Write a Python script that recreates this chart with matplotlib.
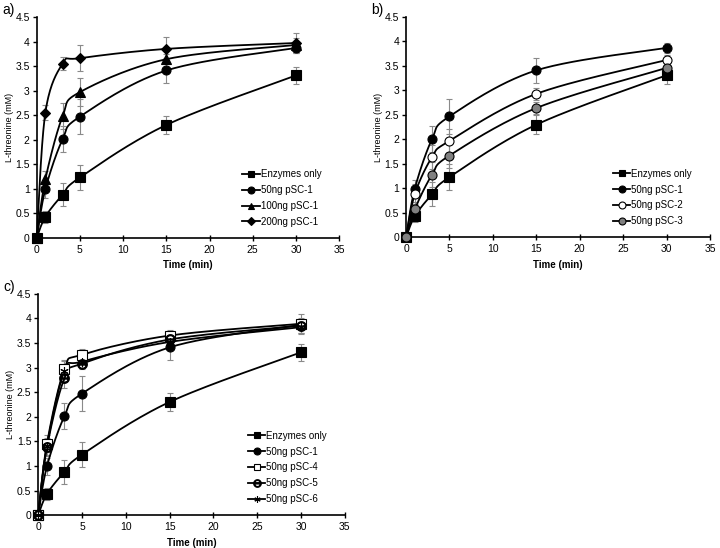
import numpy as np
import matplotlib
matplotlib.use('Agg')
import matplotlib.pyplot as plt

plt.rcParams['font.family'] = ['Liberation Sans', 'DejaVu Sans']
plt.rcParams['font.size'] = 7

######################################################
# DATA

time_min = [0, 1, 3, 5, 15, 30]

enz_only = [0, 0.43, 0.88, 1.23, 2.30, 3.31]
enz_only_err = [0, 0.12, 0.24, 0.26, 0.19, 0.17]

psc1_50 = [0, 0.99, 2.01, 2.47, 3.41, 3.87]
psc1_50_err = [0, 0.18, 0.26, 0.35, 0.26, 0.10]

psc1_100 = [0, 1.19, 2.48, 2.97, 3.64, 3.93]
psc1_100_err = [0, 0.18, 0.27, 0.29, 0.10, 0.15]

psc1_200 = [0, 2.55, 3.55, 3.66, 3.85, 3.97]
psc1_200_err = [0, 0.15, 0.14, 0.27, 0.25, 0.20]

psc2_50 = [0, 0.88, 1.64, 1.97, 2.93, 3.62]
psc2_50_err = [0, 0.20, 0.25, 0.25, 0.12, 0.10]

psc3_50 = [0, 0.57, 1.28, 1.67, 2.64, 3.46]
psc3_50_err = [0, 0.15, 0.25, 0.25, 0.12, 0.10]

psc4_50 = [0, 1.45, 2.97, 3.26, 3.65, 3.89]
psc4_50_err = [0, 0.17, 0.18, 0.12, 0.12, 0.20]

psc5_50 = [0, 1.38, 2.78, 3.08, 3.57, 3.85]
psc5_50_err = [0, 0.17, 0.20, 0.12, 0.12, 0.15]

psc6_50 = [0, 1.40, 2.93, 3.12, 3.52, 3.82]
psc6_50_err = [0, 0.17, 0.20, 0.12, 0.12, 0.12]

######################################################
# STILI

styles = {
    'Enzymes only': dict(marker='s', mfc='black', ms=6.5),
    '50ng pSC-1': dict(marker='o', mfc='black', ms=6.5),
    '100ng pSC-1': dict(marker='^', mfc='black', ms=6.5),
    '200ng pSC-1': dict(marker='D', mfc='black', ms=5.5),
    '50ng pSC-2': dict(marker='o', mfc='white', ms=6.5),
    '50ng pSC-3': dict(marker='o', mfc='#808080', ms=6.5),
    '50ng pSC-4': dict(marker='s', mfc='white', ms=6.5),
    '50ng pSC-5': dict(marker='$\\ominus$', mfc='black', ms=7),
    '50ng pSC-6': dict(marker=(6, 2, 0), mfc='black', ms=6),
}


def smooth(x, y, n=30):
    # curva tipo Excel (Catmull-Rom)
    x = np.asarray(x, float)
    y = np.asarray(y, float)
    px = np.concatenate([[x[0]], x, [x[-1]]])
    py = np.concatenate([[y[0]], y, [y[-1]]])
    xs, ys = [], []
    t = np.linspace(0, 1, n)
    for i in range(1, len(px) - 2):
        p0, p1, p2, p3 = [np.array([px[j], py[j]]) for j in (i - 1, i, i + 1, i + 2)]
        c1 = p1 + (p2 - p0) / 6
        c2 = p2 - (p3 - p1) / 6
        pts = ((1 - t)[:, None] ** 3 * p1 + 3 * ((1 - t) ** 2 * t)[:, None] * c1
               + 3 * ((1 - t) * t ** 2)[:, None] * c2 + (t ** 3)[:, None] * p2)
        xs.extend(pts[:, 0])
        ys.extend(pts[:, 1])
    return xs, ys


def draw_panel(ax, series, tag):
    for label, y, err in series:
        st = styles[label]
        ax.errorbar(time_min, y, yerr=err, fmt='none', ecolor='#8a8a8a',
                    elinewidth=0.8, capsize=2, capthick=0.8, zorder=1, clip_on=False)
        sx, sy = smooth(time_min, y)
        ax.plot(sx, sy, color='black', lw=1.3, zorder=2, clip_on=False)
        ax.plot(time_min, y, linestyle='none', marker=st['marker'], ms=st['ms'],
                mfc=st['mfc'], mec='black', mew=0.8, zorder=3, clip_on=False)
        ax.plot([], [], color='black', lw=1.3, marker=st['marker'], ms=st['ms'] - 1.5,
                mfc=st['mfc'], mec='black', mew=0.8, label=label)
    ax.set_xlim(0, 35)
    ax.set_ylim(0, 4.5)
    ax.set_xticks(np.arange(0, 36, 5))
    ax.set_yticks(np.arange(0, 4.6, 0.5))
    ax.set_yticklabels(['0', '0.5', '1', '1.5', '2', '2.5', '3', '3.5', '4', '4.5'])
    ax.spines['top'].set_visible(False)
    ax.spines['right'].set_visible(False)
    ax.spines['left'].set_linewidth(1.2)
    ax.spines['bottom'].set_linewidth(1.2)
    ax.tick_params(axis='x', direction='inout', length=4, width=1, labelsize=7.5, pad=3)
    ax.tick_params(axis='y', direction='out', length=3, width=1, labelsize=7.5, pad=2)
    ax.set_xlabel('Time (min)', fontsize=7, fontweight='bold', labelpad=4)
    ax.set_ylabel('L-threonine (mM)', fontsize=6.5, labelpad=1)
    ax.legend(loc='lower right', frameon=False, fontsize=7, handlelength=1.8,
              handletextpad=0.1, labelspacing=0.6, bbox_to_anchor=(0.97, 0.01))
    ax.text(-0.115, 1.0, tag, transform=ax.transAxes, fontsize=10, va='bottom', ha='left')


fig = plt.figure(figsize=(7.2, 5.48), dpi=100)

ax_a = fig.add_axes([0.051, 0.566, 0.420, 0.403])
draw_panel(ax_a, [
    ('Enzymes only', enz_only, enz_only_err),
    ('50ng pSC-1', psc1_50, psc1_50_err),
    ('100ng pSC-1', psc1_100, psc1_100_err),
    ('200ng pSC-1', psc1_200, psc1_200_err),
], 'a)')

ax_b = fig.add_axes([0.564, 0.567, 0.422, 0.402])
draw_panel(ax_b, [
    ('Enzymes only', enz_only, enz_only_err),
    ('50ng pSC-1', psc1_50, psc1_50_err),
    ('50ng pSC-2', psc2_50, psc2_50_err),
    ('50ng pSC-3', psc3_50, psc3_50_err),
], 'b)')

ax_c = fig.add_axes([0.053, 0.060, 0.426, 0.404])
draw_panel(ax_c, [
    ('Enzymes only', enz_only, enz_only_err),
    ('50ng pSC-1', psc1_50, psc1_50_err),
    ('50ng pSC-4', psc4_50, psc4_50_err),
    ('50ng pSC-5', psc5_50, psc5_50_err),
    ('50ng pSC-6', psc6_50, psc6_50_err),
], 'c)')

fig.savefig('out.png', dpi=100)
